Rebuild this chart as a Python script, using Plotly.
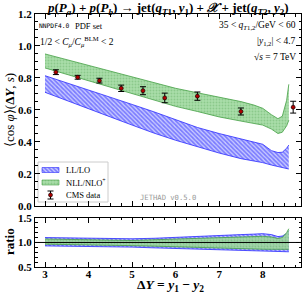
import plotly.graph_objects as go

# ---- data ----
dy_band = [3.0, 3.5, 4.0, 4.5, 5.0, 5.5, 6.0, 6.5, 7.0, 7.5, 7.8, 8.0, 8.2, 8.35, 8.45, 8.55, 8.6]

ll_up = [0.814, 0.77, 0.724, 0.68, 0.634, 0.588, 0.54, 0.49, 0.452, 0.42, 0.40, 0.385, 0.345, 0.333, 0.335, 0.36, 0.38]
ll_lo = [0.71, 0.66, 0.608, 0.556, 0.505, 0.455, 0.41, 0.37, 0.33, 0.295, 0.28, 0.27, 0.255, 0.245, 0.238, 0.232, 0.23]

nll_up = [0.95, 0.914, 0.877, 0.841, 0.805, 0.768, 0.735, 0.707, 0.68, 0.652, 0.63, 0.61, 0.57, 0.545, 0.56, 0.66, 0.76]
nll_lo = [0.8625, 0.822, 0.781, 0.741, 0.70, 0.66, 0.622, 0.59, 0.556, 0.53, 0.517, 0.505, 0.48, 0.452, 0.46, 0.50, 0.535]

ll_ratio_up = [1.10, 1.095, 1.085, 1.078, 1.075, 1.085, 1.10, 1.12, 1.14, 1.16, 1.17, 1.18, 1.16, 1.12, 1.13, 1.18, 1.24]
ll_ratio_lo = [0.93, 0.925, 0.92, 0.91, 0.905, 0.89, 0.875, 0.865, 0.85, 0.84, 0.83, 0.825, 0.82, 0.815, 0.81, 0.81, 0.81]
nll_ratio_up = [1.07, 1.06, 1.05, 1.045, 1.04, 1.055, 1.07, 1.085, 1.10, 1.115, 1.12, 1.125, 1.11, 1.08, 1.10, 1.20, 1.28]
nll_ratio_lo = [0.965, 0.96, 0.95, 0.94, 0.935, 0.925, 0.91, 0.90, 0.885, 0.875, 0.868, 0.862, 0.86, 0.86, 0.86, 0.86, 0.86]

cms_dy = [3.25, 3.75, 4.25, 4.75, 5.25, 5.75, 6.5, 7.5, 8.7]
cms_val = [0.836, 0.804, 0.783, 0.735, 0.72, 0.675, 0.686, 0.59, 0.617]
cms_err = [0.015, 0.012, 0.015, 0.02, 0.025, 0.03, 0.026, 0.022, 0.037]

legend_labels = ["LL/LO", "NLL/NLO<sup>+</sup>", "CMS data"]

# ---- styles ----
SERIF = "Liberation Serif"
MONO = "DejaVu Sans Mono"
BLUE = "#2a2aff"
GREEN = "#44a044"

blue_pat = dict(shape="\\", fgcolor=BLUE, bgcolor="#c8caff", size=3, solidity=0.55)
green_pat = dict(shape=".", fgcolor="rgba(60,150,60,0.55)", bgcolor="rgba(160,218,160,0.9)", size=3, solidity=0.3)

fig = go.Figure()

def band(x, lo, up, pat, col, name, xa, ya):
    fig.add_trace(go.Scatter(x=x, y=lo, mode="lines", line=dict(color=col, width=0.8),
                             showlegend=False, hoverinfo="skip", xaxis=xa, yaxis=ya))
    fig.add_trace(go.Scatter(x=x, y=up, mode="lines", line=dict(color=col, width=0.8),
                             fill="tonexty", fillpattern=pat, name=name, showlegend=False,
                             xaxis=xa, yaxis=ya))

band(dy_band, ll_lo, ll_up, blue_pat, BLUE, "LL/LO", "x", "y")
band(dy_band, nll_lo, nll_up, green_pat, GREEN, "NLL/NLO+", "x", "y")

fig.add_trace(go.Scatter(x=cms_dy, y=cms_val, mode="markers", name="CMS data", showlegend=False,
                         marker=dict(color="#b00000", size=4, line=dict(color="black", width=0.6)),
                         error_y=dict(type="data", array=cms_err, color="black", thickness=1, width=3),
                         xaxis="x", yaxis="y"))

band(dy_band, ll_ratio_lo, ll_ratio_up, blue_pat, BLUE, "LL/LO", "x2", "y2")
band(dy_band, nll_ratio_lo, nll_ratio_up, green_pat, GREEN, "NLL/NLO+", "x2", "y2")

# ---- compact legend drawn on an overlay axis measured in pixels ----
def sym_rect(x0, x1, yc, h):
    return [x0, x1, x1, x0, x0], [yc - h / 2, yc - h / 2, yc + h / 2, yc + h / 2, yc - h / 2]

rx, ry = sym_rect(42, 59, 170, 5)
fig.add_trace(go.Scatter(x=rx, y=ry, mode="lines", fill="toself", fillpattern=blue_pat,
                         line=dict(color=BLUE, width=0.6), xaxis="x3", yaxis="y3",
                         showlegend=False, hoverinfo="skip"))
rx, ry = sym_rect(42, 59, 182.5, 5)
fig.add_trace(go.Scatter(x=rx, y=ry, mode="lines", fill="toself", fillpattern=green_pat,
                         line=dict(color=GREEN, width=0.6), xaxis="x3", yaxis="y3",
                         showlegend=False, hoverinfo="skip"))
fig.add_trace(go.Scatter(x=[50.5], y=[195], mode="markers",
                         marker=dict(color="#b00000", size=4, line=dict(color="black", width=0.6)),
                         error_y=dict(type="constant", value=4, color="black", thickness=1, width=3),
                         xaxis="x3", yaxis="y3", showlegend=False, hoverinfo="skip"))

axcommon = dict(showline=True, linecolor="black", linewidth=1, mirror="allticks",
                ticks="inside", ticklen=5, tickcolor="black", showgrid=False, zeroline=False,
                tickfont=dict(family=SERIF, size=11, color="black", weight="bold"))

XR = [2.77, 8.88]
L, R, T, B = 35, 5, 14, 26
W, H = 306, 293
fig.update_layout(
    width=W, height=H,
    margin=dict(l=L, r=R, t=T, b=B),
    paper_bgcolor="white", plot_bgcolor="rgba(0,0,0,0)",
    xaxis=dict(domain=[0, 1], range=XR, anchor="y", showticklabels=False, dtick=1,
               minor=dict(dtick=0.25, ticks="inside", ticklen=2.5, tickcolor="black"), **axcommon),
    yaxis=dict(domain=[0.242, 1], range=[0, 1.2], anchor="x", dtick=0.2, tickformat=".1f",
               minor=dict(dtick=0.05, ticks="inside", ticklen=2.5, tickcolor="black"), **axcommon),
    xaxis2=dict(domain=[0, 1], range=XR, anchor="y2", dtick=1, ticklabelstandoff=-3,
                minor=dict(dtick=0.25, ticks="inside", ticklen=2.5, tickcolor="black"), **axcommon),
    yaxis2=dict(domain=[0, 0.194], range=[0.5, 1.5], anchor="x2", dtick=0.5, tickformat=".1f",
                minor=dict(dtick=0.1, ticks="inside", ticklen=2.5, tickcolor="black"), **axcommon),
    xaxis3=dict(domain=[0, 1], range=[L, W - R], anchor="y3", visible=False, fixedrange=True),
    yaxis3=dict(domain=[0, 1], range=[H - B, T], anchor="x3", visible=False, fixedrange=True),
    showlegend=False,
    font=dict(family=SERIF, color="black"),
)

def px(X):
    return (X - L) / (W - L - R)

def py(Y):
    return (H - B - Y) / (H - B - T)

# legend box
fig.add_shape(type="rect", xref="paper", yref="paper", x0=px(38), x1=px(108), y0=py(202), y1=py(162),
              fillcolor="white", line=dict(color="#cccccc", width=1), layer="below")

fig.add_shape(type="line", xref="x2 domain", yref="y2", x0=0, x1=1, y0=1, y1=1,
              line=dict(color="black", width=1))

def ann(text, x, y, size, xanchor="left", yanchor="middle", family=SERIF, color="black", angle=0):
    fig.add_annotation(text=text, x=x, y=y, xref="paper", yref="paper", showarrow=False,
                       xanchor=xanchor, yanchor=yanchor, textangle=angle,
                       font=dict(family=family, size=size, color=color))

for lab, yy in zip(legend_labels, [170, 182.5, 195]):
    ann(lab, px(64), py(yy), 8.5)

ann("<b><i>p</i>(<i>P<sub>a</sub></i>) + <i>p</i>(<i>P<sub>b</sub></i>) → jet(<i>q<sub>T</sub></i><sub>1</sub>, <i>y</i><sub>1</sub>) + <i>𝒳</i> + jet(<i>q<sub>T</sub></i><sub>2</sub>, <i>y</i><sub>2</sub>)</b>",
    px(168), py(9), 13, xanchor="center")
ann("NNPDF4.0", px(37), py(26), 6.3, family=MONO)
ann("PDF set", px(73), py(26), 8.5)
ann("1/2 &lt; <i>C<sub>μ</sub></i>/<i>C</i><sub><i>μ</i></sub><sup>BLM</sup> &lt; 2", px(38), py(41), 9.5)
ann("35 &lt; <i>q</i><sub><i>T</i>1,2</sub>/GeV &lt; 60", px(298), py(26), 9.5, xanchor="right")
ann("|<i>y</i><sub>1,2</sub>| &lt; 4.7", px(298), py(41), 9.5, xanchor="right")
ann("√<i>s</i> = 7 TeV", px(298), py(57), 9.5, xanchor="right")
ann("JETHAD v0.5.0", px(168), py(197), 7.2, xanchor="center", family=MONO, color="#999999")
ann("⟨cos <i>φ</i>⟩(<b>Δ<i>Y</i></b>, <i>s</i>)", px(9), py(110), 13, xanchor="center", angle=-90)
ann("<b>ratio</b>", px(9), py(242), 13, xanchor="center", angle=-90)
ann("<b>Δ<i>Y</i> = <i>y</i><sub>1</sub> − <i>y</i><sub>2</sub></b>", px(170), py(285), 13.5, xanchor="center")

fig.write_html("out.html", config={"displayModeBar": False},
               post_script="document.body.style.margin='0';document.body.style.overflow='hidden';")
